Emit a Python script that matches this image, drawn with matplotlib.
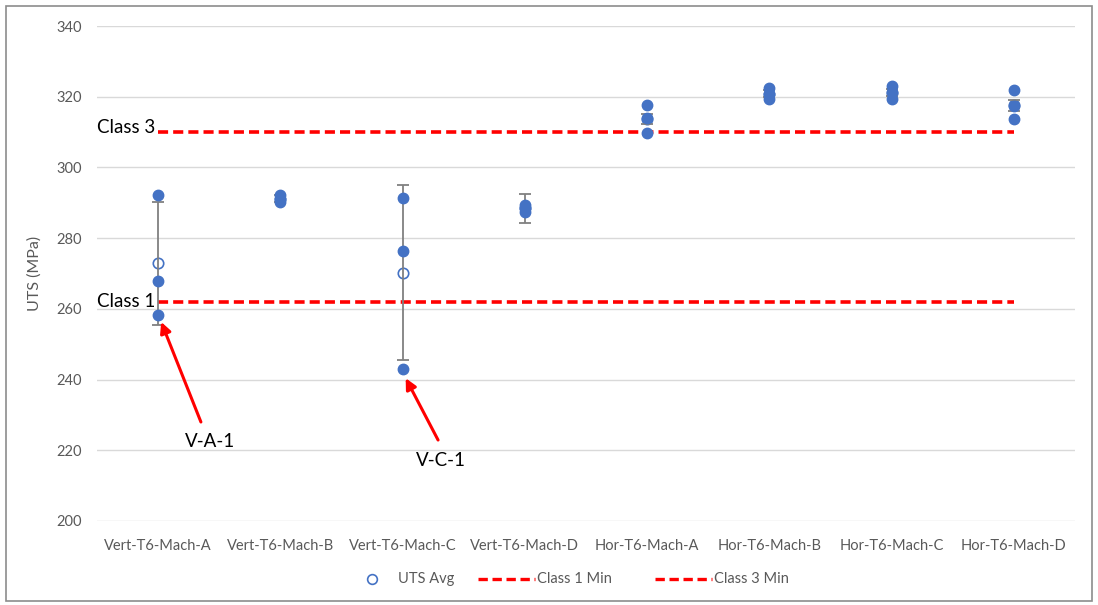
import numpy as np
import matplotlib
matplotlib.use("Agg")
import matplotlib.pyplot as plt
from matplotlib.lines import Line2D
from matplotlib.patches import Rectangle

plt.rcParams['font.family'] = ['Lato', 'DejaVu Sans']

# Specimen groups and measured UTS values (MPa)
categories = ["Vert-T6-Mach-A", "Vert-T6-Mach-B", "Vert-T6-Mach-C", "Vert-T6-Mach-D",
              "Hor-T6-Mach-A", "Hor-T6-Mach-B", "Hor-T6-Mach-C", "Hor-T6-Mach-D"]
vert_a = [292.2, 268.0, 258.3]
vert_b = [292.1, 291.2, 290.3]
vert_c = [291.4, 276.3, 243.1]
vert_d = [289.5, 288.6, 287.3]
hor_a = [317.7, 313.9, 309.6]
hor_b = [322.4, 320.9, 319.3]
hor_c = [323.0, 321.2, 319.3]
hor_d = [321.8, 317.4, 313.6]
groups = [vert_a, vert_b, vert_c, vert_d, hor_a, hor_b, hor_c, hor_d]

# Error bar half-widths around each group average
uts_err = [17.4, 1.0, 24.7, 4.1, 1.5, 1.0, 1.0, 1.5]

# Minimum UTS requirements
class1_min = 262
class3_min = 310

blue = '#4472C4'
grey_txt = '#595959'
dash = (0, (2.8, 1.4))

W, H = 1098, 605
fig = plt.figure(figsize=(W / 100, H / 100), dpi=100)
ax = fig.add_axes([97 / W, 1 - 521 / H, (1075 - 97) / W, (521 - 26) / H])

x = np.arange(len(categories))
avgs = [np.mean(g) for g in groups]

ax.plot(x, avgs, 'o', markerfacecolor='white', markeredgecolor=blue,
        markeredgewidth=1.2, markersize=7.5, linestyle='none', zorder=3)
ax.errorbar(x, avgs, yerr=uts_err, fmt='none', ecolor='#808080', elinewidth=1.3,
            capsize=4, capthick=1.3, zorder=3.5)
for xi, g in zip(x, groups):
    ax.plot([xi] * len(g), g, 'o', color=blue, markersize=7.5, zorder=4)

ax.plot([x[0], x[-1]], [class1_min, class1_min], color='red', linestyle=dash,
        linewidth=2.6, zorder=2)
ax.plot([x[0], x[-1]], [class3_min, class3_min], color='red', linestyle=dash,
        linewidth=2.6, zorder=2)

ax.text(-0.02, class3_min + 1.3, "Class 3", ha='right', va='center', fontsize=13.5, color='black')
ax.text(-0.02, class1_min, "Class 1", ha='right', va='center', fontsize=13.5, color='black')

# Callouts for the low outliers
arrow = dict(arrowstyle='-|>', color='red', lw=2.2, mutation_scale=16, shrinkA=0, shrinkB=0)
ax.annotate('', xy=(0.025, 256.3), xytext=(0.35, 228.0), arrowprops=arrow, zorder=6)
ax.annotate('', xy=(2.025, 240.4), xytext=(2.29, 222.9), arrowprops=arrow, zorder=6)
ax.text(0.425, 222.4, "V-A-1", ha='center', va='center', fontsize=13.5, color='black')
ax.text(2.31, 217.1, "V-C-1", ha='center', va='center', fontsize=13.5, color='black')

ax.set_xlim(-0.5, len(categories) - 0.5)
ax.set_ylim(200, 340)
ax.set_yticks(np.arange(200, 341, 20))
ax.set_xticks(x)
ax.set_xticklabels(categories)
ax.tick_params(axis='both', length=0, labelsize=10.5, colors=grey_txt)
ax.tick_params(axis='x', pad=13)
ax.tick_params(axis='y', pad=11)
ax.grid(axis='y', color='#d9d9d9', linewidth=1)
ax.set_axisbelow(True)
for s in ax.spines.values():
    s.set_visible(False)
ax.set_ylabel("UTS (MPa)", fontsize=11.5, color=grey_txt)
ax.yaxis.set_label_coords((42 - 97) / 978, 0.5)

# Legend row below the plot
ly = 1 - 579 / H
fig.add_artist(Line2D([372 / W], [ly], marker='o', linestyle='none', markerfacecolor='white',
                      markeredgecolor=blue, markeredgewidth=1.2, markersize=7,
                      transform=fig.transFigure))
fig.text(398 / W, ly, "UTS Avg", ha='left', va='center', fontsize=10.5, color=grey_txt)
for x0, label in [(478, "Class 1 Min"), (655, "Class 3 Min")]:
    fig.add_artist(Line2D([x0 / W, (x0 + 57) / W], [ly, ly], color='red', linestyle=dash,
                          linewidth=2.4, transform=fig.transFigure))
    fig.text((x0 + 59) / W, ly, label, ha='left', va='center', fontsize=10.5, color=grey_txt)

fig.patches.append(Rectangle((6 / W, 4 / H), 1086 / W, 595 / H,
                             transform=fig.transFigure, fill=False,
                             edgecolor='#8c8c8c', linewidth=1.2))

fig.savefig("out.png", dpi=100, facecolor='white')
